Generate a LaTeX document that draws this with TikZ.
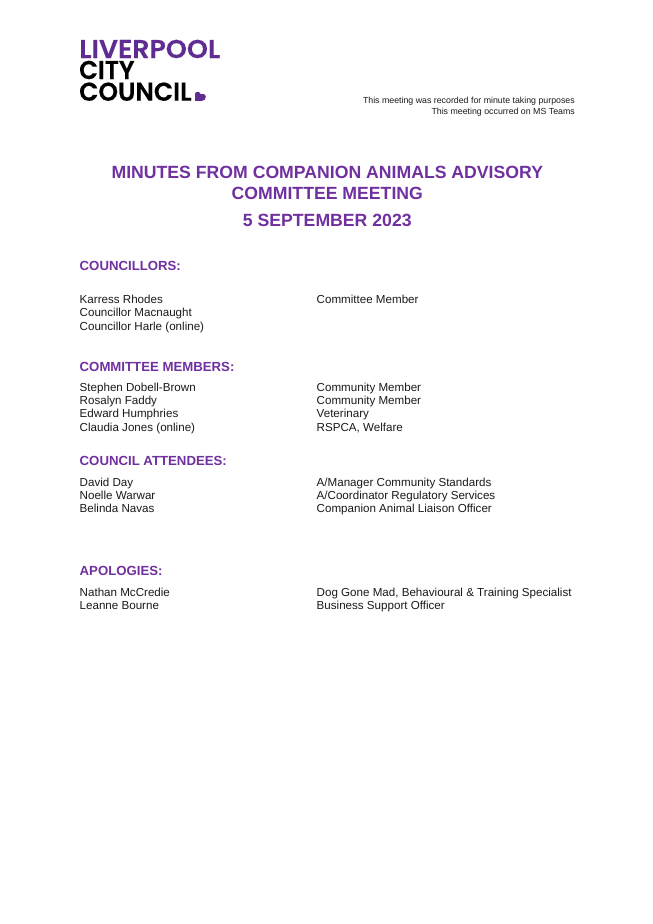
\documentclass[tikz,border=0pt]{standalone}
\usepackage{fontspec}
\usepackage{graphicx}
\setmainfont{Liberation Sans}
\newfontfamily\logofont[FakeBold=0.35]{Poppins SemiBold}
\definecolor{lccpurple}{HTML}{7030A0}
\definecolor{logopurple}{HTML}{5F2C91}
\definecolor{bodygrey}{HTML}{1A1A1A}
\tikzset{
  x=1pt,y=-1pt,
  bodytext/.style={anchor=base west,inner sep=0pt,font=\fontsize{11.6}{14}\selectfont,text=bodygrey},
  headtext/.style={anchor=base west,inner sep=0pt,font=\fontsize{13.2}{16}\selectfont\bfseries,text=lccpurple},
  titletext/.style={anchor=base,inner sep=0pt,font=\fontsize{17.65}{21}\selectfont\bfseries,text=lccpurple},
  notetext/.style={anchor=base east,inner sep=0pt,font=\fontsize{8.8}{11}\selectfont,text=bodygrey},
  logotext/.style={anchor=base west,inner sep=0pt,text height=17pt,text depth=0pt,font=\logofont\fontsize{25.8}{26}\selectfont},
}
\begin{document}
\begin{tikzpicture}
\useasboundingbox (0,0) rectangle (653,924);
\fill[white] (0,0) rectangle (653,924);
% logo
\node[logotext,text=logopurple] (logoa) at (79,58) {\scalebox{1.04}[1]{LIVERPOOL}};
\node[logotext,text=black] (logob) at (79,79) {\scalebox{0.95}[1]{CITY}};
\node[logotext,text=black] (logoc) at (79,100.7) {\scalebox{0.97}[1]{COUNCIL}};
\fill[logopurple] (195.2,100.9) -- (195.2,93.8) .. controls (195.2,92.4) and (196.2,91.8) .. (197.4,91.8)
  .. controls (199,91.8) and (200,92.8) .. (200.6,94) -- (203,94)
  .. controls (205,94) and (205.8,95.2) .. (205.8,96.8)
  .. controls (205.8,99.4) and (204.2,100.9) .. (201.8,100.9) -- cycle;
% notes
\node[notetext] (na) at (575,103) {This meeting was recorded for minute taking purposes};
\node[notetext] (nb) at (575,114) {This meeting occurred on MS Teams};
% title
\node[titletext] (ta) at (327.3,178.3) {MINUTES FROM COMPANION ANIMALS ADVISORY};
\node[titletext] (tb) at (327.3,199) {COMMITTEE MEETING};
\node[titletext] (tc) at (327.3,226) {5 SEPTEMBER 2023};
% councillors
\node[headtext] (h1) at (79.5,270) {COUNCILLORS:};
\node[bodytext] (a1) at (79.5,303) {Karress Rhodes};
\node[bodytext] (a2) at (79.5,316.5) {Councillor Macnaught};
\node[bodytext] (a3) at (79.5,330) {Councillor Harle (online)};
\node[bodytext] (b1) at (316.5,303) {Committee Member};
% committee
\node[headtext] (h2) at (79.5,371) {COMMITTEE MEMBERS:};
\node[bodytext] (c1) at (79.5,391) {Stephen Dobell-Brown};
\node[bodytext] (c2) at (79.5,404.5) {Rosalyn Faddy};
\node[bodytext] (c3) at (79.5,417.5) {Edward Humphries};
\node[bodytext] (c4) at (79.5,431.5) {Claudia Jones (online)};
\node[bodytext] (d1) at (316.5,391) {Community Member};
\node[bodytext] (d2) at (316.5,404.5) {Community Member};
\node[bodytext] (d3) at (316.5,417.5) {Veterinary};
\node[bodytext] (d4) at (316.5,431.5) {RSPCA, Welfare};
% council
\node[headtext] (h3) at (79.5,465) {COUNCIL ATTENDEES:};
\node[bodytext] (e1) at (79.5,486) {David Day};
\node[bodytext] (e2) at (79.5,499) {Noelle Warwar};
\node[bodytext] (e3) at (79.5,512.5) {Belinda Navas};
\node[bodytext] (f1) at (316.5,486) {A/Manager Community Standards};
\node[bodytext] (f2) at (316.5,499) {A/Coordinator Regulatory Services};
\node[bodytext] (f3) at (316.5,512.5) {Companion Animal Liaison Officer};
% apologies
\node[headtext] (h4) at (79.5,575) {APOLOGIES:};
\node[bodytext] (g1) at (79.5,596) {Nathan McCredie};
\node[bodytext] (g2) at (79.5,609) {Leanne Bourne};
\node[bodytext] (k1) at (316.5,596) {Dog Gone Mad, Behavioural \& Training Specialist};
\node[bodytext] (k2) at (316.5,609) {Business Support Officer};
\end{tikzpicture}
\end{document}
